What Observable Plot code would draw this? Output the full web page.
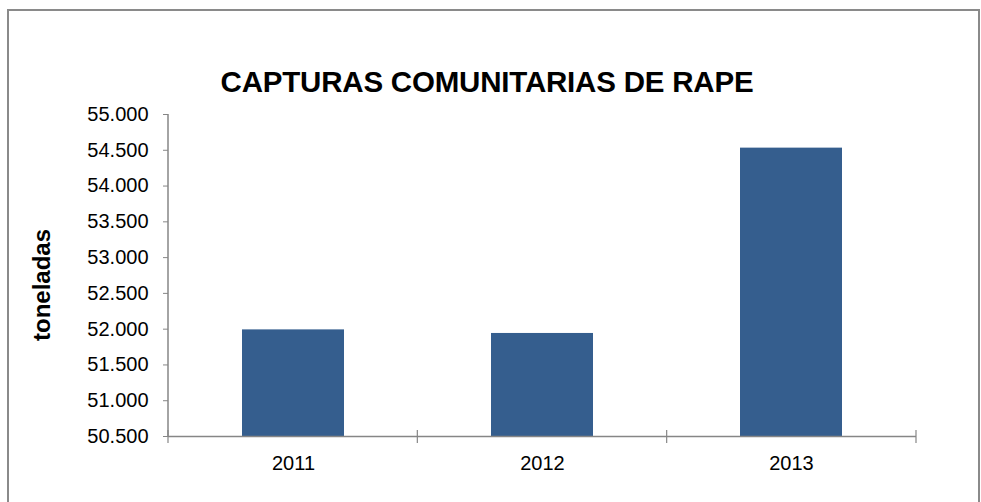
<!DOCTYPE html>
<html>
<head>
<meta charset="utf-8">
<script src="https://cdn.jsdelivr.net/npm/d3@7"></script>
<script src="https://cdn.jsdelivr.net/npm/@observablehq/plot@0.6"></script>
<style>
  html, body { margin: 0; padding: 0; background: #fff; overflow: hidden; }
  #wrap { position: relative; width: 981px; height: 502px; overflow: hidden; font-family: "Liberation Sans", Arial, sans-serif; }
  #border { position: absolute; left: 7px; top: 9px; width: 973px; height: 600px; border: 2px solid #8a8a8a; box-sizing: border-box; }
  #title { position: absolute; left: 0; top: 67px; width: 974px; text-align: center; font-size: 29.5px; line-height: 29.5px; font-weight: bold; color: #000; letter-spacing: -0.2px; }
  #ylabel { position: absolute; left: 42px; top: 285px; transform: translate(-50%, -50%) rotate(-90deg); font-size: 24px; font-weight: bold; white-space: nowrap; color: #000; }
  #chart { position: absolute; left: 0; top: 0; }
</style>
</head>
<body>
<div id="wrap">
  <div id="border"></div>
  <div id="chart"></div>
  <div id="title">CAPTURAS COMUNITARIAS DE RAPE</div>
  <div id="ylabel">toneladas</div>
</div>
<script>
const years = ["2011", "2012", "2013"];
const capturas = [51990, 51940, 54530];
const yTicks = [50500, 51000, 51500, 52000, 52500, 53000, 53500, 54000, 54500, 55000];
const yDomain = [50500, 55000];

const data = years.map((y, i) => ({year: y, value: capturas[i]}));
const locale = d3.formatLocale({decimal: ",", thousands: ".", grouping: [3], currency: ["", "€"]});
const fmt = locale.format(",.0f");
const gray = "#868686";

function axisLines(index, scales, values, dims) {
  const g = d3.create("svg:g");
  const x0 = dims.marginLeft, x1 = dims.width - dims.marginRight;
  const y0 = dims.marginTop, y1 = dims.height - dims.marginBottom;
  g.append("line").attr("x1", x0).attr("x2", x0).attr("y1", y0).attr("y2", y1)
    .attr("stroke", gray).attr("stroke-width", 1.5);
  const n = years.length;
  for (let i = 0; i <= n; i++) {
    const x = x0 + i * (x1 - x0) / n;
    g.append("line").attr("x1", x).attr("x2", x).attr("y1", y1 - 6).attr("y2", y1 + 7)
      .attr("stroke", gray).attr("stroke-width", 1.2);
  }
  return g.node();
}

const plot = Plot.plot({
  width: 981,
  height: 502,
  marginLeft: 168,
  marginRight: 65,
  marginTop: 114,
  marginBottom: 66,
  style: {fontFamily: "'Liberation Sans', Arial, sans-serif", fontSize: "20px", background: "transparent", color: "#000", overflow: "visible"},
  x: {domain: years, paddingInner: 0.59, paddingOuter: 0.295, label: null},
  y: {domain: yDomain, label: null},
  marks: [
    Plot.barY(data, {x: "year", y1: yDomain[0], y2: "value", fill: "#355E8E"}),
    Plot.ruleY([yDomain[0]], {stroke: gray, strokeWidth: 1.5}),
    axisLines,
    Plot.axisY({ticks: yTicks, tickFormat: fmt, tickSize: 5, tickPadding: 15, stroke: gray, label: null, fontSize: 20}),
    Plot.axisX({tickSize: 0, tickPadding: 19, label: null, fontSize: 20})
  ]
});
document.getElementById("chart").appendChild(plot);
</script>
</body>
</html>
